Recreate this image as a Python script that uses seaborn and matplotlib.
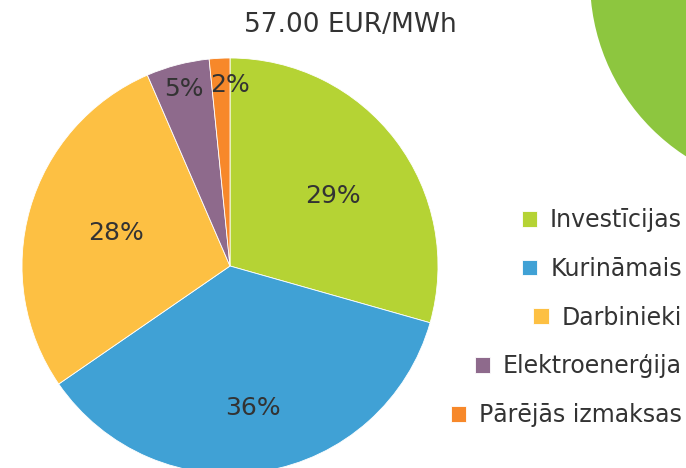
import numpy as np
import seaborn as sns
import matplotlib.pyplot as plt
from matplotlib.patches import Circle

categories = ["Investīcijas", "Kurināmais", "Darbinieki", "Elektroenerģija", "Pārējās izmaksas"]
shares = [29.4, 36.0, 28.1, 4.9, 1.6]
colors = ["#b5d334", "#40a1d5", "#fdc043", "#8e6a8c", "#f7882a"]
label_dist = [0.60, 0.69, 0.57, 0.88, 0.87]
label_shift = [-3, 0, 0, 0, -3]  # degrees
title = "57.00 EUR/MWh"

sns.set_theme(style="white")
plt.rcParams["font.family"] = ["DejaVu Sans"]
text_color = "#333333"

fig = plt.figure(figsize=(6.86, 4.68), dpi=100)

# decorative green circle in top right corner (inches)
fig.patches.append(Circle((8.00, 4.88), 2.10, transform=fig.dpi_scale_trans,
                          facecolor="#8dc63f", edgecolor="none", zorder=0))

ax = fig.add_axes([22 / 686, -6 / 468, 416 / 686, 416 / 468])
wedges, _ = ax.pie(shares, colors=colors, startangle=90, counterclock=False,
                   wedgeprops=dict(edgecolor="white", linewidth=0.6))
ax.set_xlim(-1, 1)
ax.set_ylim(-1, 1)

for w, val, d, s in zip(wedges, shares, label_dist, label_shift):
    ang = np.deg2rad((w.theta1 + w.theta2) / 2 + s)
    ax.text(d * np.cos(ang), d * np.sin(ang), f"{val:.0f}%", ha="center", va="center",
            fontsize=18, color=text_color)

fig.text(350 / 686, 1 - 25 / 468, title, ha="center", va="center", fontsize=19, color=text_color)

leg = fig.legend(wedges, categories, loc="upper right", bbox_to_anchor=(682 / 686, 1 - 208 / 468),
                 frameon=False, fontsize=17, handlelength=0.65, handleheight=0.65,
                 handletextpad=0.55, labelspacing=1.05, borderpad=0, borderaxespad=0,
                 labelcolor=text_color)
for col in leg._legend_handle_box.get_children():
    col.align = "right"

plt.savefig("out.png", dpi=100)
